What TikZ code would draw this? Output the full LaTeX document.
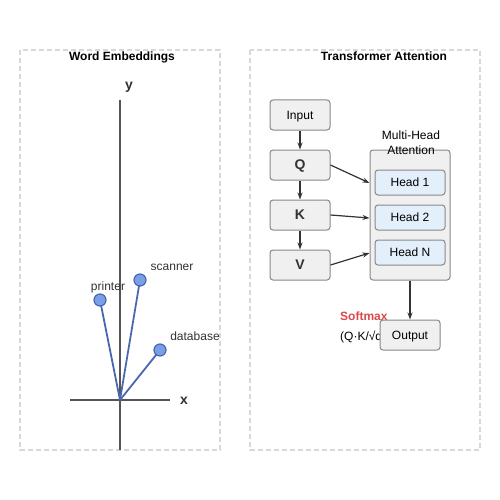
\documentclass[tikz,border=0pt]{standalone}
\usepackage{fontspec}
\setmainfont{Liberation Sans}
\usetikzlibrary{arrows.meta}
\definecolor{panel}{HTML}{D8D8D8}
\definecolor{boxfill}{HTML}{F0F0F0}
\definecolor{boxdraw}{HTML}{888888}
\definecolor{headfill}{HTML}{E3F0FC}
\definecolor{vec}{HTML}{4A68B0}
\definecolor{dotfill}{HTML}{7B9FE6}
\definecolor{axis}{HTML}{555555}
\definecolor{txt}{HTML}{333333}
\definecolor{soft}{HTML}{D94A4A}
\tikzset{
  panelbox/.style={draw=panel, dash pattern=on 5pt off 3pt, line width=1.4pt},
  tx/.style={text height=10.86pt, text depth=2.54pt},
  txb/.style={text height=12.67pt, text depth=2.97pt},
  title/.style={tx, font=\bfseries\fontsize{12}{14}\selectfont, text=black},
  lbl/.style={tx, font=\fontsize{12}{14}\selectfont, text=txt},
  blk/.style={tx, draw=boxdraw, fill=boxfill, rounded corners=3pt, line width=1pt, minimum width=60pt, minimum height=30pt, inner sep=0pt, font=\fontsize{12}{14}\selectfont},
  bigblk/.style={blk, txb, font=\bfseries\fontsize{14}{16}\selectfont, text=txt},
  head/.style={tx, draw=boxdraw, fill=headfill, rounded corners=3pt, line width=1pt, minimum width=70pt, minimum height=25pt, inner sep=0pt, font=\fontsize{12}{14}\selectfont},
  arr/.style={draw=txt, line width=1.2pt, -{Stealth[length=7pt,width=5pt]}},
  vecline/.style={draw=vec, line width=1.8pt},
  dot/.style={circle, draw=vec, fill=dotfill, line width=1.2pt, minimum size=12pt, inner sep=0pt},
  ax/.style={draw=axis, line width=1.8pt},
  axlbl/.style={txb, font=\bfseries\fontsize{14}{16}\selectfont, text=txt}
}
\begin{document}
\begin{tikzpicture}[x=1pt,y=-1pt]
\useasboundingbox[fill=white] (0,0) rectangle (500,500);
% left panel
\draw[panelbox] (20,50) rectangle (220,450);
\node[title] (t1) at (122,56) {Word Embeddings};
\coordinate (ytop) at (120,100);
\coordinate (ybot) at (120,450);
\coordinate (xl) at (70,400);
\coordinate (xr) at (170,400);
\coordinate (o) at (120,400);
\draw[ax] (ytop) -- (ybot);
\draw[ax] (xl) -- (xr);
\node[axlbl] (ylab) at (129,85) {y};
\node[axlbl] (xlab) at (184,400) {x};
\coordinate (pp) at (100,300);
\coordinate (sp) at (140,280);
\coordinate (dp) at (160,350);
\draw[vecline] (o) -- (pp);
\draw[vecline] (o) -- (sp);
\draw[vecline] (o) -- (dp);
\node[dot] (printer) at (pp) {};
\node[dot] (scanner) at (sp) {};
\node[dot] (database) at (dp) {};
\node[lbl] (lp) at (108,286) {printer};
\node[lbl] (ls) at (172,266) {scanner};
\node[lbl] (ld) at (195,336) {database};
% right panel
\draw[panelbox] (250,50) rectangle (480,450);
\node[title] (t2) at (384,56) {Transformer Attention};
\node[blk] (input) at (300,115) {Input};
\node[bigblk] (q) at (300,165) {Q};
\node[bigblk] (k) at (300,215) {K};
\node[bigblk] (v) at (300,265) {V};
\node[blk, minimum width=80pt, minimum height=130pt] (mha) at (410,215) {};
\node[lbl, text=black, align=center, font=\fontsize{12}{14.5}\selectfont] (mhal) at (411,150) {Multi-Head\\Attention};
\node[head] (h1) at (410,182.5) {Head 1};
\node[head] (h2) at (410,217.5) {Head 2};
\node[head] (hn) at (410,252.5) {Head N};
\draw[arr] (input) -- (q);
\draw[arr] (q) -- (k);
\draw[arr] (k) -- (v);
\draw[arr] (q.east) -- (mha.west |- 0,183);
\draw[arr] (k.east) -- (mha.west |- 0,218);
\draw[arr] (v.east) -- (mha.west |- 0,253);
\node[tx, font=\bfseries\fontsize{12}{14}\selectfont, text=soft, anchor=west, inner sep=0pt] (sm) at (340,316) {Softmax};
\node[lbl, text=black, anchor=west, inner sep=0pt] (form) at (340,336) {(Q·K/√d)};
\node[blk] (out) at (410,335) {Output};
\draw[arr] (mha.south) -- (out.north);
\end{tikzpicture}
\end{document}
